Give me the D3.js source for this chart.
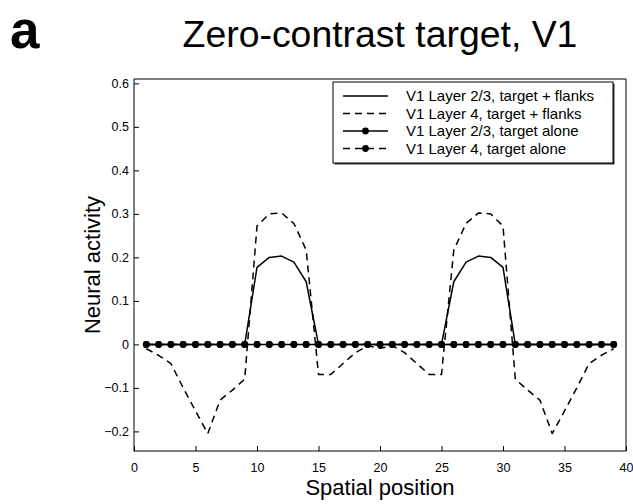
<!DOCTYPE html>
<html>
<head>
<meta charset="utf-8">
<script src="https://cdn.jsdelivr.net/npm/d3@7"></script>
<style>
  html, body { margin: 0; padding: 0; background: #fff; }
  svg { display: block; font-family: "Liberation Sans", Arial, Helvetica, sans-serif; }
</style>
</head>
<body>
<svg id="chart" width="633" height="504"></svg>
<script>
// Spatial positions sampled along the model's retinotopic axis
const positions = [1,2,3,4,5,6,7,8,9,10,11,12,13,14,15,16,17,18,19,20,
                   21,22,23,24,25,26,27,28,29,30,31,32,33,34,35,36,37,38,39];

// V1 Layer 2/3 response, target + flanks
const l23Flanks = [0,0,0,0,0,0,0,0,0,0.177,0.200,0.203,0.189,0.144,
                   0,0,0,0,0,0,0,0,0,0,0,
                   0.144,0.189,0.203,0.200,0.177,0,0,0,0,0,0,0,0,0];

// V1 Layer 4 response, target + flanks
const l4Flanks = [-0.010,-0.025,-0.044,-0.100,-0.153,-0.205,-0.128,-0.105,-0.080,
                  0.272,0.300,0.302,0.278,0.217,
                  -0.069,-0.069,-0.044,-0.019,-0.003,-0.009,-0.003,-0.019,-0.044,-0.069,-0.069,
                  0.217,0.278,0.302,0.300,0.272,
                  -0.080,-0.105,-0.128,-0.205,-0.153,-0.100,-0.044,-0.025,-0.010];

// Zero-contrast target presented alone: no activity anywhere
const l23Alone = [0,0,0,0,0,0,0,0,0,0,0,0,0,0,0,0,0,0,0,0,
                  0,0,0,0,0,0,0,0,0,0,0,0,0,0,0,0,0,0,0];
const l4Alone  = [0,0,0,0,0,0,0,0,0,0,0,0,0,0,0,0,0,0,0,0,
                  0,0,0,0,0,0,0,0,0,0,0,0,0,0,0,0,0,0,0];

const xTicks = [0,5,10,15,20,25,30,35,40];
const yTicks = [-0.2,-0.1,0,0.1,0.2,0.3,0.4,0.5,0.6];

const seriesNames = [
  "V1 Layer 2/3, target + flanks",
  "V1 Layer 4, target + flanks",
  "V1 Layer 2/3, target alone",
  "V1 Layer 4, target alone"
];

const series = [
  { name: seriesNames[0], values: l23Flanks, dashed: false, dots: false },
  { name: seriesNames[1], values: l4Flanks,  dashed: true,  dots: false },
  { name: seriesNames[2], values: l23Alone,  dashed: false, dots: true  },
  { name: seriesNames[3], values: l4Alone,   dashed: true,  dots: true  }
];

const svg = d3.select("#chart");
const plot = { left: 134, right: 626, top: 79, bottom: 451 };

const x = d3.scaleLinear().domain([0, 40]).range([plot.left, plot.right]);
const y = d3.scaleLinear().domain([-0.245, 0.61]).range([plot.bottom, plot.top]);

const DASH = "7,5";
const LW = 1.5;

// Panel letter and title
svg.append("text")
  .attr("x", 10).attr("y", 48)
  .attr("font-size", 53).attr("font-weight", "bold")
  .text("a");

svg.append("text")
  .attr("x", (plot.left + plot.right) / 2).attr("y", 47)
  .attr("text-anchor", "middle")
  .attr("font-size", 37.4)
  .text("Zero-contrast target, V1");

// Axes with inward ticks
const fmt = v => v === 0 ? "0" : d3.format(".1f")(v);

const gx = svg.append("g")
  .attr("transform", `translate(0,${plot.bottom})`)
  .call(d3.axisBottom(x).tickValues(xTicks).tickFormat(d3.format("d"))
        .tickSizeInner(-5).tickSizeOuter(0).tickPadding(12));

const gy = svg.append("g")
  .attr("transform", `translate(${plot.left},0)`)
  .call(d3.axisLeft(y).tickValues(yTicks).tickFormat(fmt)
        .tickSizeInner(-5).tickSizeOuter(0).tickPadding(5));

[gx, gy].forEach(g => {
  g.select(".domain").remove();
  g.selectAll(".tick line").attr("stroke", "#000").attr("stroke-width", 1);
  g.selectAll(".tick text").attr("font-size", 12.5).attr("fill", "#000")
    .attr("font-family", "Liberation Sans, Arial, sans-serif");
});

// Plot frame
svg.append("rect")
  .attr("x", plot.left).attr("y", plot.top)
  .attr("width", plot.right - plot.left).attr("height", plot.bottom - plot.top)
  .attr("fill", "none").attr("stroke", "#000").attr("stroke-width", 1);

// Axis labels
svg.append("text")
  .attr("x", (plot.left + plot.right) / 2).attr("y", 495)
  .attr("text-anchor", "middle").attr("font-size", 22)
  .text("Spatial position");

svg.append("text")
  .attr("transform", `translate(100,${(plot.top + plot.bottom) / 2}) rotate(-90)`)
  .attr("text-anchor", "middle").attr("font-size", 22)
  .text("Neural activity");

// Data lines
const line = d3.line()
  .x((d, i) => x(positions[i]))
  .y(d => y(d));

const dataG = svg.append("g");
series.forEach(s => {
  dataG.append("path")
    .datum(s.values)
    .attr("d", line)
    .attr("fill", "none")
    .attr("stroke", "#000")
    .attr("stroke-width", LW)
    .attr("stroke-linejoin", "round")
    .attr("stroke-dasharray", s.dashed ? DASH : null);
  if (s.dots) {
    dataG.selectAll(null)
      .data(s.values)
      .enter().append("circle")
      .attr("cx", (d, i) => x(positions[i]))
      .attr("cy", d => y(d))
      .attr("r", 3.4)
      .attr("fill", "#000");
  }
});

// Legend
const leg = { x: 333, y: 82, w: 280, h: 81 };
const lg = svg.append("g");
lg.append("rect")
  .attr("x", leg.x + 1.5).attr("y", leg.y + 1.5)
  .attr("width", leg.w).attr("height", leg.h)
  .attr("fill", "#333");
lg.append("rect")
  .attr("x", leg.x).attr("y", leg.y)
  .attr("width", leg.w).attr("height", leg.h)
  .attr("fill", "#fff").attr("stroke", "#000").attr("stroke-width", 1);

const rowY = d3.scalePoint().domain(seriesNames).range([96, 148.5]);
series.forEach(s => {
  const cy = rowY(s.name);
  lg.append("line")
    .attr("x1", 343).attr("x2", 388).attr("y1", cy).attr("y2", cy)
    .attr("stroke", "#000").attr("stroke-width", LW)
    .attr("stroke-dasharray", s.dashed ? DASH : null);
  if (s.dots) {
    lg.append("circle").attr("cx", 365.5).attr("cy", cy).attr("r", 3.4).attr("fill", "#000");
  }
  lg.append("text")
    .attr("x", 406).attr("y", cy + 5.3)
    .attr("font-size", 15)
    .text(s.name);
});
</script>
</body>
</html>
